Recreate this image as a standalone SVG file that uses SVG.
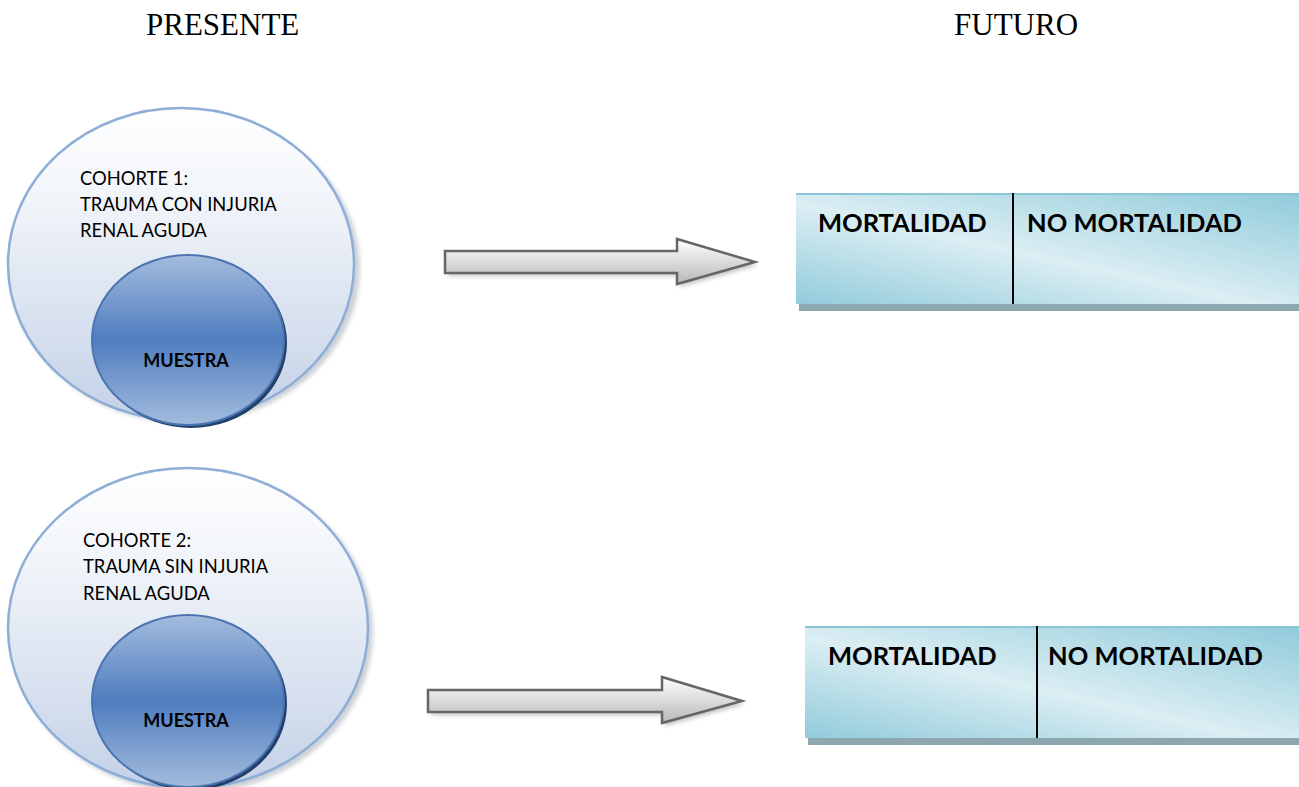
<svg xmlns="http://www.w3.org/2000/svg" width="1299" height="787" viewBox="0 0 1299 787">
<defs>
<linearGradient id="gBig" x1="0" y1="0" x2="0" y2="1">
<stop offset="0" stop-color="#ffffff"/>
<stop offset="0.35" stop-color="#eef2f8"/>
<stop offset="1" stop-color="#c3d1e7"/>
</linearGradient>
<linearGradient id="gIn" x1="0" y1="0" x2="0" y2="1">
<stop offset="0" stop-color="#a3bcdd"/>
<stop offset="0.5" stop-color="#4f7dbf"/>
<stop offset="1" stop-color="#a3bcdd"/>
</linearGradient>
<linearGradient id="gArrow" x1="0" y1="0" x2="0" y2="1">
<stop offset="0" stop-color="#ffffff"/>
<stop offset="1" stop-color="#b8b8b8"/>
</linearGradient>
<linearGradient id="gBox" x1="0" y1="1" x2="1" y2="0">
<stop offset="0" stop-color="#92cbdb"/>
<stop offset="0.45" stop-color="#dbeef3"/>
<stop offset="1" stop-color="#8fcada"/>
</linearGradient>
<filter id="blur" x="-10%" y="-10%" width="120%" height="120%">
<feGaussianBlur stdDeviation="2"/>
</filter>
<style>
.hdr{font-family:"Liberation Serif","Times New Roman",serif;font-size:31px;fill:#000}
.lbl{font-family:Lato,"Open Sans",sans-serif;font-size:18.4px;fill:#000}
.mu{font-family:Lato,"Open Sans",sans-serif;font-size:18px;font-weight:bold;fill:#000}
.bx{font-family:Lato,"Open Sans",sans-serif;font-size:25.5px;font-weight:bold;fill:#000}
.big{fill:url(#gBig);stroke:#8eaed8;stroke-width:2.5}
.bigsh{fill:#9aa3ae;opacity:0.5}
.in{fill:url(#gIn);stroke:#4a74b0;stroke-width:2}
.insh{fill:#23406a}
.arr{fill:url(#gArrow);stroke:#666;stroke-width:2.5;stroke-linejoin:miter}
.arrsh{fill:#aaa;opacity:0.7}
.box{fill:url(#gBox)}
.boxtop{stroke:#8ac6d7;stroke-width:2}
.boxsh{fill:#8ea7ae}
.div{stroke:#000;stroke-width:2}
</style>
</defs>
<text class="hdr" x="146" y="35">PRESENTE</text>
<text class="hdr" x="954" y="35">FUTURO</text>

<g id="cohorte1">
<ellipse class="bigsh" cx="185" cy="268" rx="175" ry="155" filter="url(#blur)"/>
<ellipse class="big" cx="181" cy="264" rx="173" ry="156"/>
<text class="lbl" x="80" y="185">COHORTE 1:</text>
<text class="lbl" x="80" y="211">TRAUMA CON INJURIA</text>
<text class="lbl" x="80" y="237">RENAL AGUDA</text>
</g>
<g id="muestra1">
<ellipse class="insh" cx="191" cy="343" rx="96" ry="85"/>
<ellipse class="in" cx="188" cy="340" rx="96" ry="85"/>
<text class="mu" x="186" y="367" text-anchor="middle">MUESTRA</text>
</g>

<g id="cohorte2">
<ellipse class="bigsh" cx="192" cy="632" rx="181" ry="161" filter="url(#blur)"/>
<ellipse class="big" cx="188" cy="628" rx="180" ry="160"/>
<text class="lbl" x="83" y="547">COHORTE 2:</text>
<text class="lbl" x="83" y="573">TRAUMA SIN INJURIA</text>
<text class="lbl" x="83" y="600">RENAL AGUDA</text>
</g>
<g id="muestra2">
<ellipse class="insh" cx="191" cy="704" rx="96" ry="86"/>
<ellipse class="in" cx="188" cy="701" rx="96" ry="86"/>
<text class="mu" x="186" y="727" text-anchor="middle">MUESTRA</text>
</g>

<g id="resultado1">
<rect class="boxsh" x="799" y="300" width="510" height="11"/>
<rect class="box" x="796" y="193" width="510" height="111"/>
<line class="boxtop" x1="796" y1="194" x2="1306" y2="194"/>
<line class="div" x1="1013" y1="193" x2="1013" y2="304"/>
<text class="bx" x="818" y="232">MORTALIDAD</text>
<text class="bx" x="1027" y="232">NO MORTALIDAD</text>
</g>

<g id="resultado2">
<rect class="boxsh" x="808" y="734" width="500" height="11"/>
<rect class="box" x="805" y="626" width="500" height="112"/>
<line class="boxtop" x1="805" y1="627" x2="1305" y2="627"/>
<line class="div" x1="1037" y1="626" x2="1037" y2="738"/>
<text class="bx" x="828" y="665">MORTALIDAD</text>
<text class="bx" x="1048" y="665">NO MORTALIDAD</text>
</g>

<g id="connectors">
<polygon class="arrsh" points="448,254 680,254 680,242 758,265 680,287 680,276 448,276" filter="url(#blur)"/>
<polygon class="arr" points="445,251 677,251 677,239 755,262 677,284 677,273 445,273"/>
<polygon class="arrsh" points="431,693 665,693 665,680 745,704 665,726 665,715 431,715" filter="url(#blur)"/>
<polygon class="arr" points="428,690 662,690 662,677 742,701 662,723 662,712 428,712"/>
</g>
</svg>
